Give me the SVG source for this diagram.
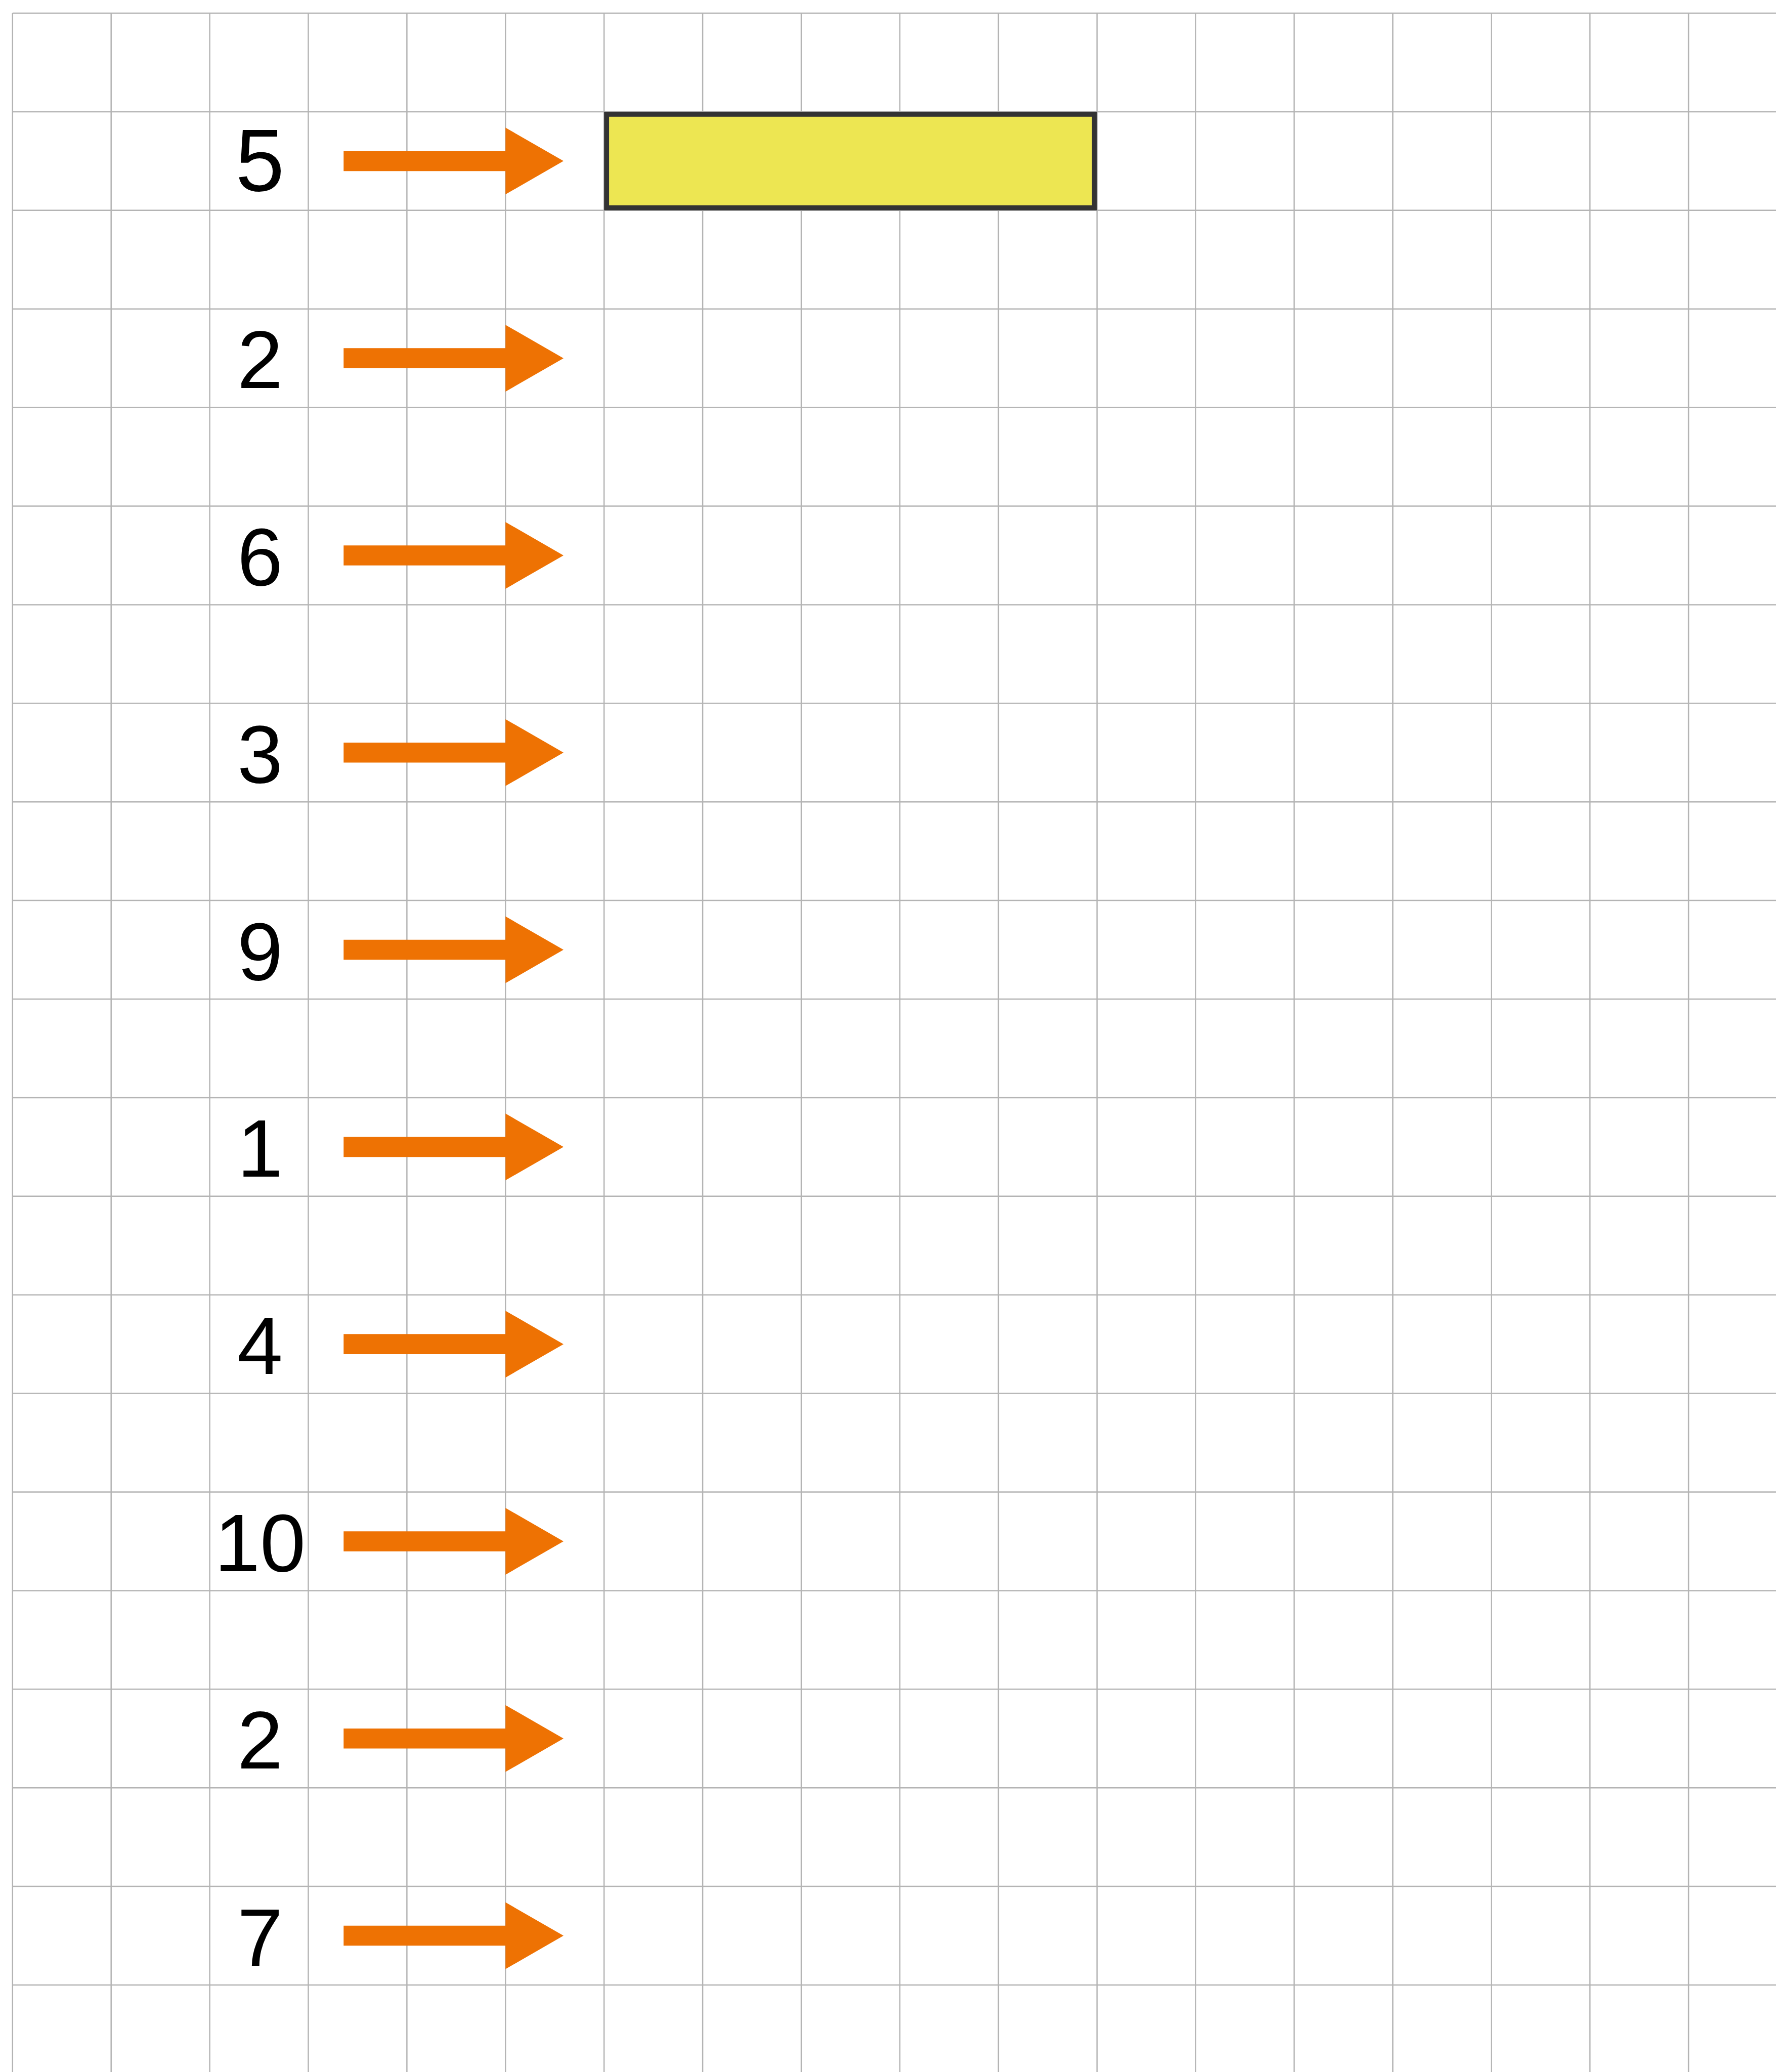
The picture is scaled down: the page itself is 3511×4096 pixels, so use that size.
<svg xmlns="http://www.w3.org/2000/svg" xmlns:xlink="http://www.w3.org/1999/xlink" width="3511" height="4096" viewBox="0 0 3511 4096">
<style>
.grid{stroke:#b4b4b4;stroke-width:2.5;fill:none}
.lbl{font-family:"Liberation Sans",Arial,Helvetica,sans-serif;font-size:162px;fill:#000;text-anchor:middle}
.big{font-size:174px}
.arrow{fill:#ee7203}
.box{fill:#ede652;stroke:#333333;stroke-width:9.9}
</style>
<defs>
<path id="arr" class="arrow" d="M679.3,-19.8 H999.3 V-66 L1114,0 L999.3,66 V19.8 H679.3 Z"/>
</defs>
<rect x="0" y="0" width="3511" height="4096" fill="#ffffff"/>
<g id="grid" class="grid">
<path d="M24.8,26V4096 M219.7,26V4096 M414.6,26V4096 M609.5,26V4096 M804.4,26V4096 M999.3,26V4096 M1194.2,26V4096 M1389.1,26V4096 M1584,26V4096 M1778.9,26V4096 M1973.8,26V4096 M2168.7,26V4096 M2363.6,26V4096 M2558.5,26V4096 M2753.4,26V4096 M2948.3,26V4096 M3143.2,26V4096 M3338.1,26V4096"/>
<path d="M24.8,26H3511 M24.8,220.9H3511 M24.8,415.8H3511 M24.8,610.7H3511 M24.8,805.6H3511 M24.8,1000.5H3511 M24.8,1195.4H3511 M24.8,1390.3H3511 M24.8,1585.2H3511 M24.8,1780.1H3511 M24.8,1975H3511 M24.8,2169.9H3511 M24.8,2364.8H3511 M24.8,2559.7H3511 M24.8,2754.6H3511 M24.8,2949.5H3511 M24.8,3144.4H3511 M24.8,3339.3H3511 M24.8,3534.2H3511 M24.8,3729.1H3511 M24.8,3924H3511"/>
</g>
<g id="box1">
<rect class="box" x="1199.15" y="225.85" width="964.6" height="185"/>
</g>
<g id="labels">
<g id="n1"><text class="lbl big" x="514" y="376.5">5</text></g>
<g id="n2"><text class="lbl" x="514" y="767.2">2</text></g>
<g id="n3"><text class="lbl" x="514" y="1157">6</text></g>
<g id="n4"><text class="lbl" x="514" y="1546.8">3</text></g>
<g id="n5"><text class="lbl" x="514" y="1936.6">9</text></g>
<g id="n6"><text class="lbl" x="514" y="2326.4">1</text></g>
<g id="n7"><text class="lbl" x="514" y="2716.2">4</text></g>
<g id="n8"><text class="lbl" x="514" y="3106">10</text></g>
<g id="n9"><text class="lbl" x="514" y="3495.8">2</text></g>
<g id="n10"><text class="lbl" x="514" y="3885.6">7</text></g>
</g>
<g id="connectors">
<use xlink:href="#arr" transform="translate(0,318.35)"/>
<use xlink:href="#arr" transform="translate(0,708.15)"/>
<use xlink:href="#arr" transform="translate(0,1097.95)"/>
<use xlink:href="#arr" transform="translate(0,1487.75)"/>
<use xlink:href="#arr" transform="translate(0,1877.55)"/>
<use xlink:href="#arr" transform="translate(0,2267.35)"/>
<use xlink:href="#arr" transform="translate(0,2657.15)"/>
<use xlink:href="#arr" transform="translate(0,3046.95)"/>
<use xlink:href="#arr" transform="translate(0,3436.75)"/>
<use xlink:href="#arr" transform="translate(0,3826.55)"/>
</g>
</svg>
